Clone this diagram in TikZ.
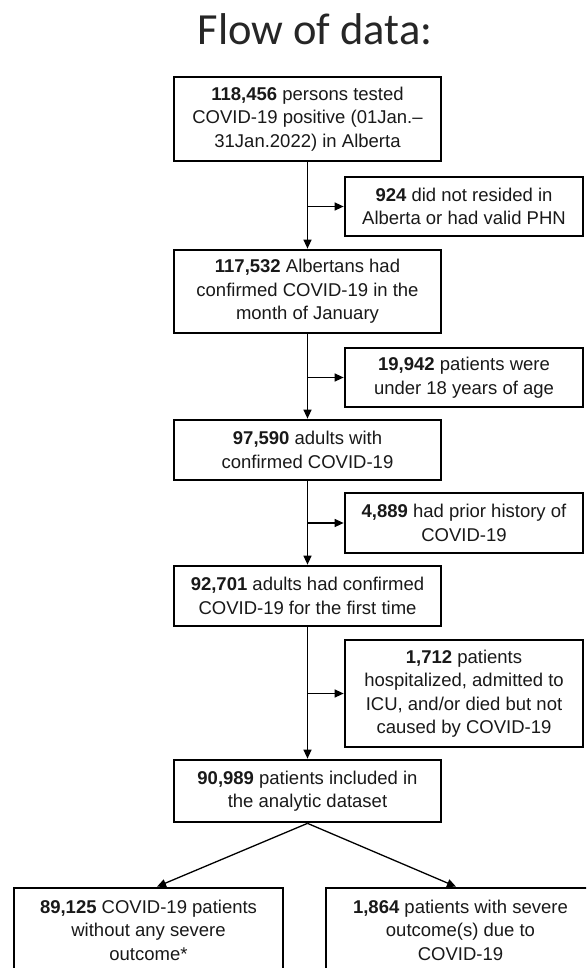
\documentclass[tikz,border=0pt]{standalone}
\usepackage{fontspec}
\setmainfont{Liberation Sans}
\newfontfamily\titlefont{Carlito}
\usetikzlibrary{arrows.meta}
\tikzset{
  box/.style={draw=black, line width=2.7pt, rectangle, align=center, inner sep=0pt,
    font=\fontsize{18.5}{23.5}\selectfont, text=black!90},
  mainbox/.style={box, minimum width=267pt},
  sidebox/.style={box, minimum width=238pt},
  endbox/.style={box, minimum width=269pt},
  flow/.style={line width=1.3pt, -{Triangle[length=9pt,width=8pt]}},
  link/.style={line width=1.3pt},
}
\begin{document}
\begin{tikzpicture}[x=1pt,y=-1pt]
\useasboundingbox (0,0) rectangle (586,968);
\clip (0,0) rectangle (586,968);
\fill[white] (0,0) rectangle (586,968);
\node[anchor=base, font=\titlefont\fontsize{44.5}{50}\selectfont, text=black!85] (title) at (315,45) {Flow of data:};

\node[mainbox, minimum height=84pt] (b1) at (307.5,119) {\textbf{118,456} persons tested\\COVID-19 positive (01Jan.--\\31Jan.2022) in Alberta};
\node[mainbox, minimum height=83pt] (b2) at (307.5,291.5) {\textbf{117,532} Albertans had\\confirmed COVID-19 in the\\month of January};
\node[mainbox, minimum height=60pt] (b3) at (307.5,450) {\textbf{97,590} adults with\\confirmed COVID-19};
\node[mainbox, minimum height=60pt] (b4) at (307.5,596) {\textbf{92,701} adults had confirmed\\COVID-19 for the first time};
\node[mainbox, minimum height=62pt] (b5) at (307.5,791) {\textbf{90,989} patients included in\\the analytic dataset};

\node[sidebox, minimum height=59pt] (s1) at (464,206.5) {\textbf{924} did not resided in\\Alberta or had valid PHN};
\node[sidebox, minimum height=59pt] (s2) at (464,377.5) {\textbf{19,942} patients were\\under 18 years of age};
\node[sidebox, minimum height=60pt] (s3) at (464,523) {\textbf{4,889} had prior history of\\COVID-19};
\node[sidebox, minimum height=107pt] (s4) at (464,693.5) {\textbf{1,712} patients\\hospitalized, admitted to\\ICU, and/or died but not\\caused by COVID-19};

\node[endbox, minimum height=84pt] (e1) at (148.5,930) {\textbf{89,125} COVID-19 patients\\without any severe\\outcome*};
\node[endbox, minimum height=84pt] (e2) at (460.5,930) {\textbf{1,864} patients with severe\\outcome(s) due to\\COVID-19};

\draw[flow] (b1) -- (b2);
\draw[flow] (b2) -- (b3);
\draw[flow] (b3) -- (b4);
\draw[flow] (b4) -- (b5);

\draw[flow] (b1.south |- s1.west) -- (s1.west);
\draw[flow] (b2.south |- s2.west) -- (s2.west);
\draw[flow] (b3.south |- s3.west) -- (s3.west);
\draw[flow] (b4.south |- s4.west) -- (s4.west);

\draw[flow] (b5.south) -- ([xshift=8.5pt]e1.north);
\draw[flow] (b5.south) -- ([xshift=-4.5pt]e2.north);
\end{tikzpicture}
\end{document}
